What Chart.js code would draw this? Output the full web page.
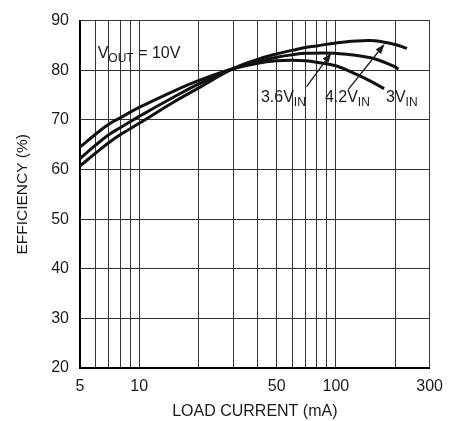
<!DOCTYPE html>
<html>
<head>
<meta charset="utf-8">
<script src="https://cdn.jsdelivr.net/npm/chart.js@4"></script>
<style>
  html, body { margin: 0; padding: 0; background: #fff; }
  #wrap { width: 452px; height: 421px; position: relative; }
</style>
</head>
<body>
<div id="wrap"><canvas id="effChart"></canvas></div>
<script>
// load current (mA) and efficiency (%)
const current3v = [5, 6, 7, 8, 10, 15, 20, 30, 40, 50, 60, 70, 80, 100, 130, 150, 176];
const eff3v = [64.5, 67.1, 69.1, 70.4, 72.5, 75.8, 77.9, 80.3, 81.4, 81.9, 82.0, 81.9, 81.6, 80.9, 79.0, 77.8, 76.3];

const current3v6 = [5, 6, 7, 8, 10, 15, 20, 30, 40, 50, 60, 70, 100, 150, 200, 208];
const eff3v6 = [62.2, 64.9, 67.0, 68.4, 70.7, 74.6, 77.2, 80.3, 81.7, 82.6, 83.1, 83.4, 83.4, 82.5, 80.7, 80.2];

const current4v2 = [5, 6, 7, 8, 10, 15, 20, 30, 40, 50, 60, 70, 80, 100, 150, 200, 230];
const eff4v2 = [60.7, 63.3, 65.4, 67.0, 69.3, 73.6, 76.4, 80.3, 82.2, 83.3, 84.0, 84.6, 84.9, 85.5, 86.0, 85.2, 84.4];

const xGridValues = [5, 6, 7, 8, 9, 10, 20, 30, 40, 50, 60, 70, 80, 90, 100, 200, 300];
const xTickLabels = [5, 10, 50, 100, 300];

const FONT = "'Liberation Sans', Arial, sans-serif";
const INK = '#1a1a1a';

function toPoints(xs, ys) {
    return xs.map((x, i) => ({ x: x, y: ys[i] }));
}

// text labels and arrows, placed in data units
const notes = [
    { main: 'V', sub: 'OUT', tail: ' = 10V', x: 6.15, y: 82.4 },
    { main: '3.6V', sub: 'IN', tail: '', x: 41.6, y: 73.6 },
    { main: '4.2V', sub: 'IN', tail: '', x: 88, y: 73.6 },
    { main: '3V', sub: 'IN', tail: '', x: 180, y: 73.6 }
];
const arrows = [
    { from: [71, 76.7], to: [95, 83.5] },
    { from: [115.5, 76.1], to: [177, 85.3] }
];

const notesPlugin = {
    id: 'notes',
    afterDatasetsDraw(chart) {
        const ctx = chart.ctx;
        const xs = chart.scales.x, ys = chart.scales.y;
        ctx.save();
        ctx.fillStyle = INK;
        ctx.textBaseline = 'alphabetic';
        ctx.textAlign = 'left';
        notes.forEach(n => {
            let px = xs.getPixelForValue(n.x);
            const py = ys.getPixelForValue(n.y);
            ctx.font = '16px ' + FONT;
            ctx.fillText(n.main, px, py);
            px += ctx.measureText(n.main).width;
            ctx.font = '12px ' + FONT;
            ctx.fillText(n.sub, px, py + 4);
            px += ctx.measureText(n.sub).width;
            if (n.tail) {
                ctx.font = '16px ' + FONT;
                ctx.fillText(n.tail, px, py);
            }
        });
        ctx.strokeStyle = INK;
        ctx.lineWidth = 1.3;
        arrows.forEach(a => {
            const x0 = xs.getPixelForValue(a.from[0]), y0 = ys.getPixelForValue(a.from[1]);
            const x1 = xs.getPixelForValue(a.to[0]), y1 = ys.getPixelForValue(a.to[1]);
            const ang = Math.atan2(y1 - y0, x1 - x0);
            const len = 10, wid = 3.5;
            const bx = x1 - len * Math.cos(ang), by = y1 - len * Math.sin(ang);
            ctx.beginPath();
            ctx.moveTo(x0, y0);
            ctx.lineTo(bx, by);
            ctx.stroke();
            ctx.beginPath();
            ctx.moveTo(x1, y1);
            ctx.lineTo(bx + wid * Math.sin(ang), by - wid * Math.cos(ang));
            ctx.lineTo(bx - wid * Math.sin(ang), by + wid * Math.cos(ang));
            ctx.closePath();
            ctx.fill();
        });
        ctx.restore();
    }
};

const lineStyle = {
    borderColor: '#111',
    borderWidth: 3,
    pointRadius: 0,
    fill: false,
    tension: 0.4
};

new Chart(document.getElementById('effChart').getContext('2d'), {
    type: 'line',
    data: {
        datasets: [
            Object.assign({ label: '3V', data: toPoints(current3v, eff3v) }, lineStyle),
            Object.assign({ label: '3.6V', data: toPoints(current3v6, eff3v6) }, lineStyle),
            Object.assign({ label: '4.2V', data: toPoints(current4v2, eff4v2) }, lineStyle)
        ]
    },
    options: {
        responsive: true,
        maintainAspectRatio: false,
        animation: false,
        layout: { padding: { top: 15, right: 20, left: 0, bottom: 0 } },
        plugins: { legend: { display: false }, tooltip: { enabled: false } },
        scales: {
            x: {
                type: 'logarithmic',
                min: 5,
                max: 300,
                afterBuildTicks: scale => { scale.ticks = xGridValues.map(v => ({ value: v })); },
                afterFit: scale => { scale.height = 53; },
                ticks: {
                    autoSkip: false,
                    maxRotation: 0,
                    padding: 9,
                    color: INK,
                    font: { family: FONT, size: 16 },
                    callback: v => xTickLabels.includes(v) ? String(v) : ''
                },
                grid: { color: '#333', lineWidth: 1, drawTicks: false },
                border: { color: '#000', width: 2 },
                title: {
                    display: true,
                    text: 'LOAD CURRENT (mA)',
                    color: INK,
                    font: { family: FONT, size: 16 },
                    padding: { top: 0, bottom: 0 }
                }
            },
            y: {
                min: 20,
                max: 90,
                afterFit: scale => { scale.width = 80; },
                ticks: {
                    stepSize: 10,
                    padding: 11,
                    color: INK,
                    font: { family: FONT, size: 16 }
                },
                grid: { color: '#333', lineWidth: 1, drawTicks: false },
                border: { color: '#000', width: 2 },
                title: {
                    display: true,
                    text: 'EFFICIENCY (%)',
                    color: INK,
                    font: { family: FONT, size: 15.5 },
                    padding: { top: 13, bottom: 0 }
                }
            }
        }
    },
    plugins: [notesPlugin]
});
</script>
</body>
</html>
